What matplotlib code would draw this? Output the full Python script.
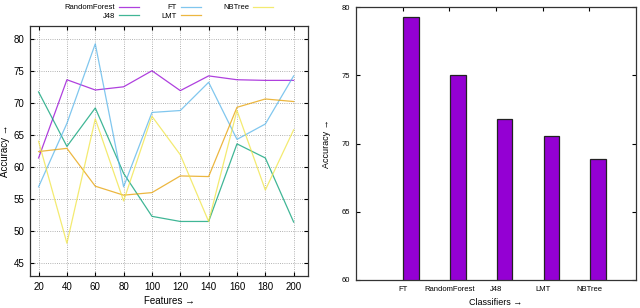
import numpy as np
import matplotlib
matplotlib.use('Agg')
import matplotlib.pyplot as plt

plt.rcParams['font.family'] = ['Liberation Sans', 'DejaVu Sans']

# Left chart: accuracy vs number of features
features = [20, 40, 60, 80, 100, 120, 140, 160, 180, 200]
random_forest = [61.4, 73.6, 72.0, 72.5, 75.0, 71.9, 74.2, 73.6, 73.5, 73.5]
j48 = [71.7, 63.2, 69.2, 59.0, 52.3, 51.5, 51.5, 63.6, 61.4, 51.4]
ft = [56.9, 66.8, 79.2, 56.9, 68.5, 68.8, 73.2, 64.3, 66.7, 74.2]
lmt = [62.4, 62.9, 57.0, 55.6, 56.0, 58.6, 58.5, 69.3, 70.6, 70.2]
nbtree = [64.0, 48.1, 67.5, 54.7, 67.9, 61.9, 51.5, 68.8, 56.4, 65.8]

# Right chart: best accuracy per classifier
classifiers = ['FT', 'RandomForest', 'J48', 'LMT', 'NBTree']
best_acc = [79.3, 75.0, 71.8, 70.55, 68.9]

fig = plt.figure(figsize=(6.4, 3.08), dpi=100)

# ---- left: line chart
ax1 = fig.add_axes([0.047, 0.104, 0.434, 0.812])
series = [('RandomForest', random_forest, '#9400d3'),
          ('J48', j48, '#009e73'),
          ('FT', ft, '#56b4e9'),
          ('LMT', lmt, '#e69f00'),
          ('NBTree', nbtree, '#f0e442')]
for name, vals, col in series:
    ax1.plot(features, vals, color=col, lw=0.9, label=name, alpha=0.75)

ax1.set_xlim(14, 210)
ax1.set_ylim(43, 82)
ax1.set_xticks(features)
ax1.set_yticks([45, 50, 55, 60, 65, 70, 75, 80])
ax1.grid(True, linestyle=':', color='#999999', lw=0.6)
ax1.tick_params(direction='in', top=True, right=True, labelsize=7, length=3, pad=4)
for s in ax1.spines.values():
    s.set_color('#333333')
    s.set_linewidth(0.9)
ax1.set_xlabel('Features →', fontsize=7, labelpad=3)
ax1.set_ylabel('Accuracy →', fontsize=7)
ax1.yaxis.set_label_coords(-0.072, 0.5)
ax1.legend(loc='lower center', bbox_to_anchor=(0.5, 1.0), ncol=3, frameon=False,
           markerfirst=False, fontsize=5.5, handlelength=2.6, handletextpad=0.5,
           columnspacing=3.0, labelspacing=0.15, borderaxespad=0.4)

# ---- right: bar chart
ax2 = fig.add_axes([0.556, 0.091, 0.438, 0.886])
x = np.arange(len(classifiers))
ax2.bar(x + 0.02, best_acc, width=0.33, align='edge', color='#9400d3',
        edgecolor='#222222', linewidth=0.9)
ax2.set_xlim(-1, 5)
ax2.set_ylim(60, 80)
ax2.set_xticks(x)
ax2.set_xticklabels(classifiers)
ax2.set_yticks([60, 65, 70, 75, 80])
ax2.tick_params(direction='in', top=True, right=True, labelsize=5.5, length=3, pad=4)
ax2.tick_params(axis='x', bottom=False)
for s in ax2.spines.values():
    s.set_color('#333333')
    s.set_linewidth(0.9)
ax2.set_xlabel('Classifiers →', fontsize=6.5, labelpad=4)
ax2.set_ylabel('Accuracy →', fontsize=6.5)
ax2.yaxis.set_label_coords(-0.09, 0.5)

fig.savefig('out.png', dpi=100)
